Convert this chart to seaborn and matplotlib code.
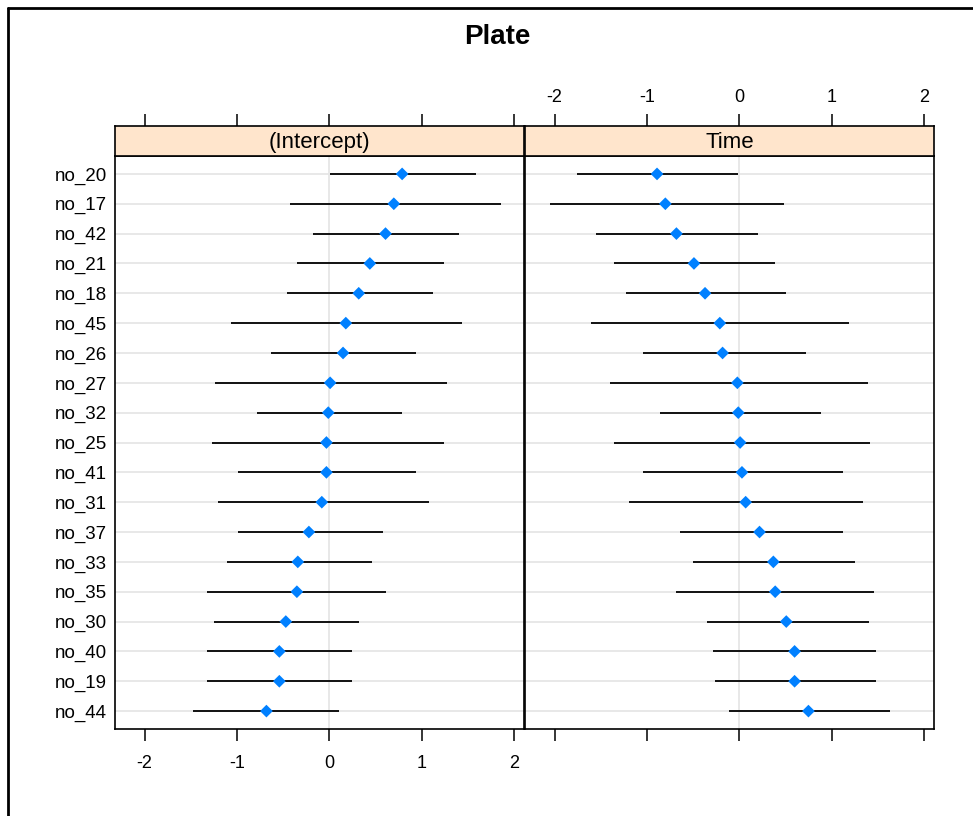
import matplotlib
matplotlib.use("Agg")
import matplotlib.pyplot as plt
import seaborn as sns
import pandas as pd
import numpy as np
from matplotlib.lines import Line2D

# random effects of Plate, top to bottom
plates = ["no_20", "no_17", "no_42", "no_21", "no_18", "no_45", "no_26", "no_27",
          "no_32", "no_25", "no_41", "no_31", "no_37", "no_33", "no_35", "no_30",
          "no_40", "no_19", "no_44"]

icpt = [0.79, 0.70, 0.61, 0.44, 0.32, 0.18, 0.15, 0.01, -0.01, -0.03,
        -0.03, -0.08, -0.22, -0.34, -0.35, -0.47, -0.54, -0.54, -0.68]
icpt_lo = [0.01, -0.42, -0.18, -0.35, -0.46, -1.06, -0.63, -1.24, -0.78, -1.27,
           -0.99, -1.20, -0.99, -1.11, -1.32, -1.25, -1.32, -1.32, -1.48]
icpt_hi = [1.59, 1.86, 1.41, 1.24, 1.12, 1.44, 0.94, 1.28, 0.79, 1.24,
           0.94, 1.08, 0.58, 0.46, 0.61, 0.32, 0.25, 0.25, 0.11]

time = [-0.89, -0.80, -0.68, -0.49, -0.37, -0.21, -0.18, -0.02, -0.01, 0.01,
        0.03, 0.07, 0.22, 0.37, 0.39, 0.51, 0.60, 0.60, 0.75]
time_lo = [-1.76, -2.05, -1.55, -1.36, -1.23, -1.60, -1.04, -1.40, -0.86, -1.36,
           -1.04, -1.19, -0.64, -0.50, -0.68, -0.35, -0.28, -0.26, -0.11]
time_hi = [-0.01, 0.48, 0.20, 0.39, 0.51, 1.19, 0.72, 1.39, 0.89, 1.42,
           1.12, 1.34, 1.12, 1.25, 1.46, 1.41, 1.48, 1.48, 1.63]

panels = ["(Intercept)", "Time"]
xticks = [-2, -1, 0, 1, 2]

n = len(plates)
df = pd.DataFrame({"plate": plates, "pos": np.arange(n, 0, -1),
                   "(Intercept)": icpt, "(Intercept)_lo": icpt_lo, "(Intercept)_hi": icpt_hi,
                   "Time": time, "Time_lo": time_lo, "Time_hi": time_hi})

sns.set_theme(style="white")
plt.rcParams["font.family"] = ["Liberation Sans", "DejaVu Sans"]
plt.rcParams["axes.unicode_minus"] = False
plt.rcParams["text.color"] = "black"
plt.rcParams["xtick.color"] = "black"
plt.rcParams["ytick.color"] = "black"
plt.rcParams["xtick.labelcolor"] = "black"
plt.rcParams["ytick.labelcolor"] = "black"

W, H = 973, 816
fig = plt.figure(figsize=(W / 100, H / 100), dpi=100)


def rect(x0, y0, x1, y1):
    return [x0 / W, 1 - y1 / H, (x1 - x0) / W, (y1 - y0) / H]


lefts = [(115, 524), (525, 934)]
xlim = (-2.32, 2.11)
for k, (name, (x0, x1)) in enumerate(zip(panels, lefts)):
    ax = fig.add_axes(rect(x0, 156, x1, 729))
    st = fig.add_axes(rect(x0, 126, x1, 156))

    ax.set_yticks(df["pos"])
    ax.yaxis.grid(True, color="#e6e6e6", lw=1.3)
    ax.axvline(0, color="#e6e6e6", lw=1.3, zorder=0)
    ax.hlines(df["pos"], df[name + "_lo"], df[name + "_hi"], color="black", lw=1.3, zorder=2)
    sns.scatterplot(data=df, x=name, y="pos", marker="D", color="#0080ff",
                    s=42, edgecolor="none", ax=ax, zorder=3)
    ax.set_xlim(xlim)
    ax.set_ylim(0.4, n + 0.6)
    ax.set_xlabel("")
    ax.set_ylabel("")
    ax.set_xticks(xticks)
    ax.tick_params(axis="x", direction="out", length=8.5, width=1.1, color="black",
                   bottom=True, labelsize=13, pad=10, labelbottom=(k == 0))
    ax.tick_params(axis="y", length=0, labelsize=13.5, pad=6, labelleft=(k == 0))
    if k == 0:
        ax.set_yticklabels(df["plate"])
    for s in ax.spines.values():
        s.set_color("black")
        s.set_linewidth(1.2)

    st.set_facecolor("#ffe5cc")
    st.set_xlim(xlim)
    st.set_ylim(0, 1)
    st.set_yticks([])
    st.set_xticks(xticks)
    st.xaxis.set_ticks_position("top")
    st.tick_params(axis="x", direction="out", length=8.5, width=1.1, color="black",
                   top=True, bottom=False, labelsize=13, pad=6,
                   labeltop=(k == 1), labelbottom=False)
    st.text(0.5, 0.45, name, transform=st.transAxes, ha="center", va="center", fontsize=16)
    for s in st.spines.values():
        s.set_color("black")
        s.set_linewidth(1.2)

fig.text(497 / W, 1 - 37 / H, "Plate", ha="center", va="center", fontsize=20, weight="bold")

# outer frame (left and top edges only)
fig.add_artist(Line2D([8 / W, 8 / W], [0, 1 - 8 / H], transform=fig.transFigure, color="black", lw=2))
fig.add_artist(Line2D([8 / W, 1], [1 - 8 / H, 1 - 8 / H], transform=fig.transFigure, color="black", lw=2))

fig.savefig("out.png", dpi=100)
